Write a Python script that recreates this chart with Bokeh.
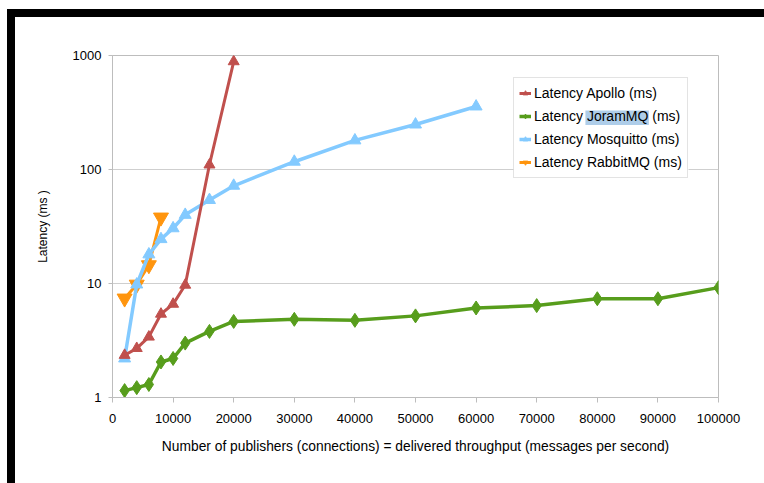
from bokeh.plotting import figure
from bokeh.models import Range1d, FixedTicker, Legend, LegendItem, BoxAnnotation, Div
from bokeh.layouts import column, row
from bokeh.embed import file_html
from bokeh.resources import INLINE

# ---- data ----
apollo_x = [2000, 4000, 6000, 8000, 10000, 12000, 16000, 20000]
apollo_y = [2.35, 2.7, 3.4, 5.4, 6.6, 9.7, 110, 885]

joram_x = [2000, 4000, 6000, 8000, 10000, 12000, 16000, 20000, 30000, 40000,
           50000, 60000, 70000, 80000, 90000, 100000]
joram_y = [1.15, 1.22, 1.3, 2.05, 2.2, 3.0, 3.8, 4.65, 4.85, 4.75,
           5.2, 6.1, 6.4, 7.35, 7.35, 9.2]

mosq_x = [2000, 4000, 6000, 8000, 10000, 12000, 16000, 20000, 30000, 40000, 50000, 60000]
mosq_y = [2.2, 9.8, 18, 24.5, 30.5, 40, 54, 72, 117, 180, 248, 357]

rabbit_x = [2000, 4000, 6000, 8000]
rabbit_y = [7.4, 9.8, 14.5, 38]

series_names = ["Latency Apollo (ms)", "Latency JoramMQ (ms)",
                "Latency Mosquitto (ms)", "Latency RabbitMQ (ms)"]

x_ticks = [0, 10000, 20000, 30000, 40000, 50000, 60000, 70000, 80000, 90000, 100000]
x_tick_labels = ["0", "10000", "20000", "30000", "40000", "50000", "60000",
                 "70000", "80000", "90000", "100000"]
y_ticks = [1, 10, 100, 1000]
y_tick_labels = ["1", "10", "100", "1000"]

x_title = "Number of publishers (connections) = delivered throughput (messages per second)"
y_title = "Latency (ms )"

FONT = "Liberation Sans"
GRID = "#cfcfcf"
AXIS = "#bdbdbd"

p = figure(frame_width=606, frame_height=342, y_axis_type="log",
           x_range=Range1d(0, 100000), y_range=Range1d(1, 1000),
           output_backend="svg", toolbar_location=None,
           min_border_left=97, min_border_right=46, min_border_top=38,
           min_border_bottom=86)
p.background_fill_color = "white"
p.border_fill_color = "white"
p.outline_line_color = AXIS
p.xgrid.grid_line_color = None
p.ygrid.grid_line_color = GRID
p.ygrid.grid_line_width = 1

# axes
p.xaxis.ticker = FixedTicker(ticks=x_ticks)
p.xaxis.major_label_overrides = {t: l for t, l in zip(x_ticks, x_tick_labels)}
p.yaxis.ticker = FixedTicker(ticks=y_ticks)
p.yaxis.major_label_overrides = {t: l for t, l in zip(y_ticks, y_tick_labels)}
for ax in (p.xaxis[0], p.yaxis[0]):
    ax.axis_line_color = AXIS
    ax.major_tick_line_color = AXIS
    ax.minor_tick_line_color = None
    ax.major_tick_in = 0
    ax.major_label_text_font = FONT
    ax.major_label_text_color = "black"
    ax.axis_label_text_font = FONT
    ax.axis_label_text_font_style = "normal"
    ax.axis_label_text_color = "black"
p.xaxis.major_tick_out = 5
p.yaxis.major_tick_out = 4
p.xaxis.major_label_text_font_size = "13px"
p.yaxis.major_label_text_font_size = "13px"
p.xaxis.major_label_standoff = 11
p.yaxis.major_label_standoff = 7
p.xaxis.axis_label = x_title
p.yaxis.axis_label = y_title
p.xaxis.axis_label_text_font_size = "13.8px"
p.yaxis.axis_label_text_font_size = "12px"
p.xaxis.axis_label_standoff = 13
p.yaxis.axis_label_standoff = 20

# series (drawn bottom to top)
r_rab_l = p.line(rabbit_x, rabbit_y, line_color="#ff950e", line_width=3, line_join="round")
r_rab_m = p.scatter(rabbit_x, rabbit_y, marker="inverted_triangle", size=15,
                    fill_color="#ff950e", line_color="#ff950e")
r_mos_l = p.line(mosq_x, mosq_y, line_color="#83caff", line_width=3.5, line_join="round")
r_mos_m = p.scatter(mosq_x, mosq_y, marker="triangle", size=12,
                    fill_color="#83caff", line_color="#83caff")
r_jor_l = p.line(joram_x, joram_y, line_color="#579d1c", line_width=3.5, line_join="round")
r_jor_m = p.scatter(joram_x, joram_y, marker="diamond", size=14,
                    fill_color="#579d1c", line_color="#579d1c")
r_apo_l = p.line(apollo_x, apollo_y, line_color="#c0504d", line_width=3, line_join="round")
r_apo_m = p.scatter(apollo_x, apollo_y, marker="triangle", size=11,
                    fill_color="#c0504d", line_color="#c0504d")

LEG_X, LEG_Y = 401, 219
PAD, GW, GH, LH, SP, STAND = 5, 12, 20, 20, 3, 3
LEG_W, LEG_H = 175, 100
FS = 14

# legend background (drawn under the transparent legend) and the text highlight
p.add_layout(BoxAnnotation(left=LEG_X, right=LEG_X + LEG_W, bottom=LEG_Y, top=LEG_Y + LEG_H,
                           left_units="screen", right_units="screen",
                           bottom_units="screen", top_units="screen",
                           fill_color="white", fill_alpha=1, line_color=None))
hl_left = LEG_X + PAD + GW + STAND + 3.780 * FS   # after "Latency "
hl_cy = LEG_Y + 2 * PAD + 4 * LH + 3 * SP - (PAD + LH + SP + LH / 2)
p.add_layout(BoxAnnotation(left=hl_left - 1, right=hl_left + 4.389 * FS + 1,
                           bottom=hl_cy - 7.5, top=hl_cy + 7,
                           left_units="screen", right_units="screen",
                           bottom_units="screen", top_units="screen",
                           fill_color="#aecde9", fill_alpha=1, line_color=None))

legend = Legend(items=[
    LegendItem(label=series_names[0], renderers=[r_apo_l, r_apo_m]),
    LegendItem(label=series_names[1], renderers=[r_jor_l, r_jor_m]),
    LegendItem(label=series_names[2], renderers=[r_mos_l, r_mos_m]),
    LegendItem(label=series_names[3], renderers=[r_rab_l, r_rab_m]),
], location=(LEG_X, LEG_Y), margin=0, padding=PAD, spacing=SP,
   glyph_width=GW, glyph_height=GH, label_height=LH, label_standoff=STAND,
   label_text_font=FONT, label_text_font_size="%dpx" % FS, label_text_color="black",
   border_line_color="#c8c8c8", background_fill_alpha=0.0)
p.add_layout(legend)

top_band = Div(text="", width=757, height=8, margin=0,
               styles={"background-color": "black"})
left_band = Div(text="", width=8, height=466, margin=0,
                styles={"background-color": "black"})
layout = column(top_band, row(left_band, p, spacing=0), spacing=0,
                margin=(9, 0, 0, 7))

open("out.html", "w").write(file_html(layout, INLINE))
